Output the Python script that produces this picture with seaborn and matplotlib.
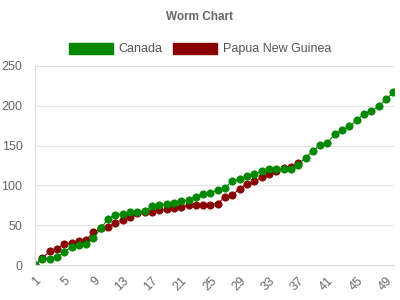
import matplotlib
matplotlib.use("Agg")
import matplotlib.pyplot as plt
import seaborn as sns
import pandas as pd
import numpy as np
from matplotlib.patches import Patch

canada = [0, 7, 8, 10, 16, 23, 25, 27, 34, 46,
          58, 63, 64, 66, 67, 68, 74, 75, 77, 78,
          80, 82, 86, 89, 91, 94, 97, 106, 108, 112,
          114, 118, 120, 120, 120, 121, 126, 135, 143, 151,
          153, 165, 169, 174, 182, 190, 193, 200, 208, 217]
png = [0, 9, 17, 20, 26, 28, 30, 32, 41, 46,
       48, 53, 57, 60, 65, 66, 67, 69, 70, 71,
       73, 75, 75, 76, 76, 77, 86, 88, 96, 102,
       105, 110, 114, 118, 122, 123, 128]
countries = ["Canada", "Papua New Guinea"]
colors = {"Canada": "#008800", "Papua New Guinea": "#880000"}
xtick_labels = list(range(1, 51, 4))

df = pd.concat([
    pd.DataFrame({"Match": np.arange(1, len(canada) + 1), "Runs": canada, "Country": "Canada"}),
    pd.DataFrame({"Match": np.arange(1, len(png) + 1), "Runs": png, "Country": "Papua New Guinea"}),
])

sns.set_style("white")
plt.rcParams["font.family"] = ["Liberation Sans", "DejaVu Sans"]

fig = plt.figure(figsize=(4, 3), dpi=100)
ax = fig.add_axes([35 / 400, 1 - 265 / 300, 359 / 400, 199 / 300])

sns.lineplot(data=df, x="Match", y="Runs", hue="Country",
             hue_order=["Papua New Guinea", "Canada"], palette=colors,
             marker="o", markersize=5.2, linewidth=0.8, markeredgewidth=0.6,
             ax=ax, legend=False)
for line in ax.lines:
    line.set_markeredgecolor(line.get_color())

ax.set_xlim(1, 50.1)
ax.set_ylim(0, 250)
ax.set_yticks([0, 50, 100, 150, 200, 250])
ax.set_xticks(xtick_labels)
ax.set_xticklabels([str(v) for v in xtick_labels], rotation=45, ha="right",
                   rotation_mode="anchor")
ax.set_xlabel("")
ax.set_ylabel("")
ax.yaxis.grid(True, color="#e3e3e3", linewidth=0.8)
ax.set_axisbelow(True)
for s in ["top", "right"]:
    ax.spines[s].set_visible(False)
for s in ["left", "bottom"]:
    ax.spines[s].set_color("#dddddd")
    ax.spines[s].set_linewidth(0.8)
ax.tick_params(axis="both", colors="#dddddd", labelcolor="#666666",
               labelsize=9, length=5, width=0.8, pad=2)
ax.tick_params(axis="y", length=7)
for lab in ax.get_xticklabels():
    lab.set_color("#666666")

fig.text(0.5, 1 - 17 / 300, "Worm Chart", ha="center", va="center",
         fontsize=8.5, fontweight="bold", color="#666666")
handles = [Patch(facecolor=colors[c], edgecolor=colors[c], alpha=1, label=c) for c in countries]
fig.legend(handles=handles, loc="center", bbox_to_anchor=(0.5, 1 - 49 / 300), ncol=2,
           frameon=False, fontsize=9, handlelength=3.5, handleheight=1.0,
           handletextpad=0.5, columnspacing=0.8, labelcolor="#555555")

fig.savefig("out.png", dpi=100)
